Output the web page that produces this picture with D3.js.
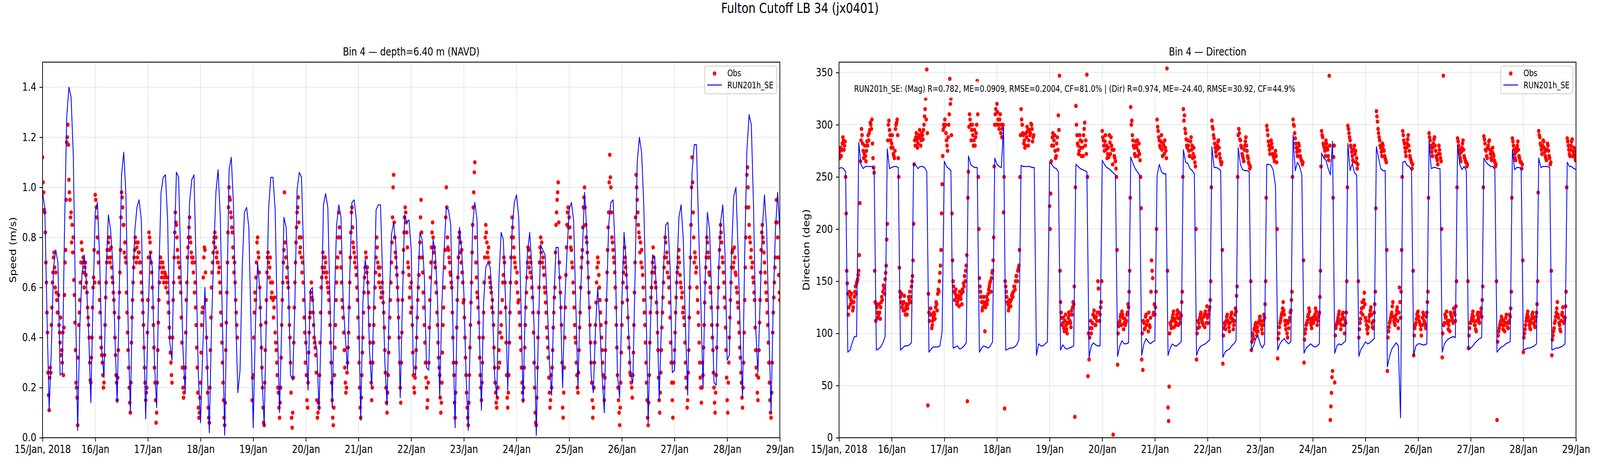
<!DOCTYPE html>
<html>
<head>
<meta charset="utf-8">
<script src="https://cdn.jsdelivr.net/npm/d3@7"></script>
<style>
  html, body { margin: 0; padding: 0; background: #fff; width: 100%; height: 100%; overflow: hidden; }
  svg { display: block; width: 100vw; height: 100vh; font-family: "DejaVu Sans", sans-serif; }
</style>
</head>
<body>
<svg id="chart" viewBox="0 0 5000 1200" preserveAspectRatio="none"></svg>
<script>
// ---- data ----
// model: hourly from 15/Jan 00:00 to 29/Jan 00:00 (337 values)
const modelSpeed = [
  .98,.92,.50,.11,.35,.68,.75,.70,.25,.26,.83,1.28,1.40,1.36,1.13,.55,.03,.45,.66,.73,.62,.42,.14,.55,
  .90,.94,.72,.35,.24,.67,.89,.83,.70,.40,.14,.60,1.05,1.14,.97,.45,.10,.55,.82,.92,.95,.87,.45,.075,
  .45,.74,.68,.30,.12,.65,.98,1.04,1.05,.87,.38,.31,.75,1.06,1.04,.69,.35,.18,.62,.94,1.03,1.05,.68,.25,
  .06,.35,.60,.30,.02,.45,.73,.98,1.07,.88,.45,.01,.54,1.07,1.12,.93,.49,.18,.27,.68,.90,.92,.84,.45,
  .04,.45,.70,.59,.25,.05,.49,.91,1.04,1.04,.91,.45,.10,.45,.88,.84,.64,.25,.23,.54,.99,1.06,1.04,.73,
  .40,.19,.59,.60,.40,.35,.11,.45,.93,.975,.92,.54,.12,.54,.85,.93,.88,.54,.40,.27,.64,.94,.95,.87,
  .54,.07,.54,.71,.66,.35,.205,.54,.91,.93,.93,.64,.30,.13,.54,.81,.86,.77,.54,.16,.54,.89,.86,.87,
  .75,.26,.25,.60,.82,.79,.64,.28,.27,.60,.79,.74,.55,.16,.54,.75,.92,.91,.85,.44,.04,.54,.84,.75,
  .58,.25,.03,.44,.85,.94,.87,.44,.11,.54,.68,.70,.68,.54,.25,.16,.64,.82,.79,.54,.19,.54,.83,.94,
  .97,.88,.54,.14,.54,.74,.82,.68,.44,.01,.44,.77,.75,.73,.54,.30,.17,.54,.76,.76,.54,.20,.54,.74,
  .91,.94,.87,.54,.20,.54,.74,.98,.83,.54,.25,.18,.44,.60,.44,.25,.10,.54,.85,.94,.95,.74,.25,.16,
  .54,.82,.70,.44,.25,.22,.64,1.10,1.20,1.14,.93,.54,.06,.44,.73,.72,.54,.15,.44,.68,.85,.86,.68,.26,
  .27,.64,.88,.93,.79,.44,.17,.64,1.06,1.17,1.17,.83,.54,.20,.64,.90,.83,.54,.22,.21,.64,.86,.93,.74,
  .31,.33,.74,.965,1.00,.74,.40,.16,.74,1.15,1.29,1.25,.93,.44,.26,.54,.83,.97,.83,.44,.10,.54,.83,.98,
  .83
];

const modelDir = [
  258,259,258,255,82,84,91,97,97, 283,262,258,260,260,260,260,257, 84,85,87,91,97,
  277,258,259,260,260,259, 84,86,88,88,89,91, 263,261,258,260,260,259,255,
  82,85,87,87,87,88,102, 265,260,258,256, 86,87,88,85,86,88,91,
  270,262,260,259,259, 82,86,88,87,86,88,92, 268,262,260,259,298,
  84,85,86,86,87,89,94, 261,260,260,260,260,259,259, 79,90,88,88,90,92,
  264,262,259,258,255, 84,89,86,85,86,87,88, 262,260,258,257,256,255,
  77,88,91,89,88,88, 266,262,259,258,256,254,252, 78,88,93,90,90,91,
  269,263,258,255,252, 79,90,95,92,90,92,93, 251,262,255,253,253,
  79,86,90,88,88,90,92, 276,264,263,258,256,253, 79,85,88,89,90,92,94,
  279,259,259,258,256, 77,82,84,85,88,90,93, 278,262,257,256,256,255,
  84,88,95,98,90,86,90, 262,262,261,256,241, 84,90,93,95,92,90,92,
  290,256,264,260,252, 81,86,88,90,88,87,88,90, 273,268,266,258,252,284,
  81,88,90,89,91,93, 282,256,263,254,252, 78,85,88,92,90,91,93,95,
  279,268,258,256,256, 68,78,85,88,91,88,19, 264,265,261,260,256,
  79,88,90,90,89,89,90, 284,258,259,259,258,258, 82,90,93,95,96,97,96,
  280,262,257,260,256, 84,86,88,91,93,95,96, 268,264,262,260,260,257,
  82,85,87,88,90,91,92, 276,257,259,259,258, 84,85,86,86,87,88,90,
  268,259,260,260,260,259, 84,85,86,86,87,88,90, 264,260,260,258,257
];

// observations on the hour and half hour from 15/Jan 00:00 (673 values, null = no data)
const obsSpeed = [
  // 15/Jan
  1.12,.98,.90,.70,.50,.26,.11,.28,.45,.62,.72,.68,.66,.55,.50,.45,.38,.33,.30,.25,.57,.75,1.18,1.25,
  1.03,.95,.90,.85,.80,.57,.35,.20,.05,.45,.55,.70,.75,.72,.60,.70,.62,.52,.45,.30,.22,.40,.60,.75,
  // 16/Jan
  .97,.92,.80,.70,.55,.40,.33,.25,.22,.45,.62,.75,.78,.75,.72,.68,.62,.55,.40,.25,.15,.35,.58,.75,
  .98,.92,.85,.78,.70,.50,.35,.20,.10,.38,.55,.68,.75,.78,.76,.78,.74,.70,.62,.55,.45,.28,.15,.20,
  // 17/Jan
  .55,.82,.78,.70,.60,.45,.28,.15,.10,.35,.55,.68,.70,.66,.68,.64,.65,.62,.58,.50,.40,.30,.22,.55,
  .72,.90,.85,.75,.70,.68,.58,.38,.20,.18,.28,.55,.72,.80,.88,.78,.72,.72,.70,.62,.45,.28,.12,.10,
  // 18/Jan
  .22,.45,.52,.72,.75,.55,.28,.12,.06,.35,.60,.70,.78,.82,.80,.74,.70,.68,.58,.45,.30,.15,.05,.35,
  .58,.82,1.00,.95,.88,.82,.72,.70,.55,.45,null,null,null,null,null,null,null,null,null,null,null,null,null,.15,
  // 19/Jan
  .25,.50,.55,.70,.80,.72,.60,.45,.28,.12,.05,.35,.55,.72,.70,.68,.62,.58,.55,.52,.42,.35,.25,.18,
  .08,.20,.45,.62,.75,.78,.72,.68,.60,.45,.30,.08,.10,.38,.62,.78,.90,.96,.80,.76,.72,.70,.55,.42,
  // 20/Jan
  .38,.15,.22,.42,.50,.62,.55,.45,.38,.33,.15,.10,.12,.38,.60,.68,.72,.68,.70,.66,.60,.55,.45,.30,
  .15,.05,.25,.45,.62,.72,.90,.80,.68,.55,.48,.35,.22,.20,.30,.42,.62,.82,.92,.78,.74,.72,.65,.55,
  // 21/Jan
  .40,.20,.08,.25,.40,.58,.68,.72,.68,.58,.45,.30,.15,.30,.45,.60,.72,.76,.68,.65,.60,.58,.58,.50,
  .35,.20,.10,.25,.40,.55,.70,.88,1.05,.80,.72,.65,.55,.40,.20,.30,.55,.75,.88,.90,.82,.70,.65,.60,
  // 22/Jan
  .62,.45,.25,.18,.28,.40,.55,.65,.78,.95,.72,.58,.45,.30,.20,.15,.30,.55,.70,.82,.80,.76,.68,.58,
  .45,.32,.25,.10,.22,.45,.60,.75,1.00,.80,.75,.70,.65,.60,.40,.25,.08,.30,.55,.72,.82,.78,.75,.62,
  // 23/Jan
  .55,.40,.25,.12,.05,.25,.45,.62,.85,.98,1.10,.70,.58,.52,.40,.25,.15,.30,.50,.72,.85,.78,.72,.70,
  .62,.58,.55,.45,.28,.18,.12,.20,.35,.42,.45,.55,.65,.70,.52,.25,.12,.25,.50,.72,.88,.80,.72,.68,
  // 24/Jan
  .62,.58,.55,.45,.35,.22,.15,.28,.45,.58,.70,.75,.72,.70,.60,.50,.30,.10,.05,.28,.50,.70,.80,.78,
  .72,.65,.58,.50,.40,.32,.18,.15,.20,.35,.50,.60,.85,.95,1.02,.70,.58,.45,.12,.18,.40,.65,.85,.92,
  // 25/Jan
  .88,.80,.75,.68,.58,.45,.38,.25,.18,.35,.50,.68,.75,.92,1.00,.85,.78,.70,.58,.45,.30,.15,.12,.30,
  .45,.62,.72,.65,.55,.45,.35,.25,.15,.35,.55,.75,.90,1.13,1.00,.80,.75,.70,.60,.45,.25,.15,.05,.22,
  // 26/Jan
  .45,.62,.70,.72,.65,.55,.40,.30,.25,.20,.25,.45,.70,1.05,.95,.85,.80,.78,.75,.65,.55,.45,.30,.15,
  .05,.25,.50,.60,.70,.72,.68,.60,.50,.35,.15,.18,.35,.50,.62,.72,.78,.74,.70,.60,.48,.30,.15,.22,
  // 27/Jan
  .35,.50,.62,.68,.75,.65,.60,.58,.52,.45,.30,.20,.15,.35,.60,.85,1.12,.90,.70,.72,.68,.55,.45,.30,
  .20,.20,.25,.45,.62,.72,.78,.72,.65,.58,.45,.35,.20,.10,.25,.45,.60,.75,.85,.78,.70,.62,.52,.35,
  // 28/Jan
  .15,.22,.40,.55,.68,.75,.70,.72,.65,.58,.52,.42,.32,.22,.12,.30,.55,.80,1.05,1.00,.85,.78,.75,.70,
  .62,.55,.35,.25,.15,.35,.55,.75,.85,.78,.70,.62,.55,.45,.30,.15,.08,.30,.50,.62,.72,.95,.80,.65,
  .55
];

// observations at quarter past / quarter to (672 values)
const obsSpeedMid = [
  1.02,.91,.82,.62,.42,.17,.24,.26,.52,.66,.74,.60,.58,.50,.57,.42,.48,.35,.42,.44,.70,.95,1.20,1.17,
  .98,.88,.78,.74,.63,.46,.22,.16,.32,.50,.62,.78,.70,.66,.68,.65,.58,.48,.40,.23,.32,.52,.64,.62,
  .95,.88,.74,.62,.50,.36,.30,.20,.33,.56,.70,.72,.80,.70,.76,.64,.58,.50,.33,.22,.24,.48,.66,.88,
  .96,.85,.74,.72,.58,.42,.28,.14,.22,.48,.62,.72,.80,.70,.72,.74,.70,.66,.58,.50,.36,.22,.18,.42,
  .72,.80,.74,.66,.52,.36,.22,.06,.22,.46,.62,.72,.64,.70,.62,.66,.60,.64,.54,.44,.34,.25,.40,.62,
  .82,.86,.80,.72,.64,.62,.48,.28,.16,.24,.42,.62,.76,.84,.80,.74,.70,.66,.58,.52,.36,.18,.08,.16,
  .34,.50,.64,.76,.66,.40,.18,.08,.20,.48,.66,.74,.80,.76,.72,.70,.66,.62,.50,.38,.22,.08,.14,.46,
  .70,.92,.96,.90,.84,.76,.66,.62,.50,.40,null,null,null,null,null,null,null,null,null,null,null,null,null,.24,
  .40,.58,.64,.78,.74,.66,.52,.36,.20,.06,.22,.46,.66,.74,.64,.72,.56,.62,.48,.56,.38,.30,.20,.12,
  .14,.32,.55,.70,.98,.72,.64,.62,.52,.40,.18,.04,.24,.52,.70,.84,.92,.86,.74,.80,.66,.62,.48,.30,
  .25,.12,.34,.48,.58,.56,.50,.40,.36,.26,.08,.14,.25,.50,.64,.74,.66,.72,.64,.62,.58,.50,.38,.22,
  .08,.12,.36,.55,.68,.80,.84,.74,.62,.52,.42,.28,.18,.26,.36,.52,.72,.90,.84,.76,.70,.68,.60,.48,
  .30,.12,.16,.34,.50,.64,.74,.66,.62,.52,.38,.22,.20,.38,.52,.66,.80,.70,.62,.68,.56,.62,.54,.44,
  .26,.14,.18,.34,.48,.62,.78,1.00,.86,.74,.68,.60,.48,.30,.14,.42,.66,.82,.92,.86,.76,.68,.56,.50,
  .52,.34,.20,.24,.35,.48,.60,.72,.88,.82,.66,.52,.38,.24,.12,.22,.44,.64,.76,.86,.74,.70,.62,.50,
  .38,.28,.16,.14,.34,.52,.68,.88,.92,.76,.72,.66,.62,.50,.30,.14,.18,.44,.64,.80,.74,.70,.66,.54,
  .48,.32,.18,.08,.14,.36,.54,.74,.92,1.06,.80,.64,.56,.46,.32,.20,.22,.40,.62,.80,.82,.74,.76,.64,
  .60,.52,.50,.36,.22,.14,.16,.28,.30,.50,.40,.62,.72,.62,.38,.16,.18,.38,.62,.80,.84,.76,.70,.62,
  .66,.54,.50,.40,.28,.18,.20,.36,.52,.64,.76,.68,.66,.64,.56,.42,.20,.06,.16,.40,.60,.76,.74,.70,
  .68,.60,.54,.44,.36,.24,.12,.25,.28,.44,.56,.74,.90,.98,.86,.64,.52,.30,.08,.28,.52,.76,.90,.84,
  .84,.76,.70,.62,.52,.40,.30,.20,.26,.44,.60,.72,.84,.96,.92,.80,.74,.64,.52,.38,.22,.08,.20,.38,
  .54,.68,.70,.60,.50,.40,.30,.20,.24,.46,.66,.84,1.02,1.04,.90,.78,.72,.66,.52,.36,.20,.10,.12,.34,
  .54,.66,.76,.68,.60,.48,.36,.26,.22,.16,.34,.58,.88,1.00,.90,.82,.74,.70,.68,.60,.50,.38,.22,.08,
  .14,.38,.56,.66,.76,.66,.62,.54,.42,.24,.10,.26,.44,.56,.68,.80,.72,.66,.64,.54,.38,.22,.08,.30,
  .42,.56,.66,.72,.70,.62,.56,.50,.48,.38,.24,.12,.26,.48,.72,1.00,1.02,.80,.74,.66,.60,.50,.38,.24,
  .14,.30,.36,.54,.68,.80,.74,.66,.60,.52,.40,.26,.14,.18,.36,.52,.68,.80,.82,.72,.66,.56,.44,.24,
  .10,.30,.48,.62,.74,.68,.76,.66,.60,.54,.46,.36,.26,.16,.20,.42,.68,.92,1.08,.92,.80,.72,.68,.64,
  .58,.44,.28,.18,.24,.46,.66,.82,.80,.74,.66,.58,.50,.38,.22,.10,.18,.42,.56,.68,.86,.86,.72,.58
];

const obsDir = [
  // 15/Jan
  272,275,270,282,285,280,250,160,138,125,135,132,130,125,135,145,148,152,160,225,285,290,275,272,
  270,275,280,285,295,300,305,268,254,130,128,120,118,120,125,135,140,143,152,165,205,300,295,285,
  // 16/Jan
  282,278,270,275,300,305,268,163,135,138,128,130,122,125,118,128,132,135,145,155,205,285,288,285,
  282,290,287,285,290,295,308,325,353,31,120,118,118,108,115,118,125,128,138,140,158,180,243,295,
  // 17/Jan
  298,300,285,275,300,344,325,215,150,140,138,135,130,133,140,133,128,140,145,150,165,35,255,310,
  300,295,290,285,280,292,342,250,153,140,130,125,135,102,130,128,138,145,150,153,160,192,300,315,
  // 18/Jan
  320,305,296,310,300,296,216,28,145,135,128,125,130,132,138,140,145,150,155,160,165,250,315,300,
  290,285,280,288,294,285,290,301,296,288,null,null,null,null,null,null,null,null,null,null,null,null,null,null,
  // 19/Jan
  222,234,280,292,285,275,270,288,309,347,130,115,110,105,112,108,100,115,118,110,122,125,128,20,
  318,290,280,275,285,270,278,290,302,285,348,59,75,105,100,110,118,115,108,112,150,120,118,130,
  // 20/Jan
  294,285,275,290,280,272,269,283,288,276,3,270,265,250,70,107,112,118,121,115,110,108,112,120,
  125,160,317,304,285,278,270,280,285,275,272,250,75,65,110,105,118,112,102,108,115,170,153,120,
  // 21/Jan
  118,140,305,294,285,278,290,270,280,285,275,354,29,49,110,105,115,121,112,108,118,115,120,110,
  117,140,315,309,292,280,285,275,270,288,280,272,269,260,75,105,110,115,120,112,108,118,121,110,
  // 22/Jan
  115,118,125,150,304,296,287,278,270,280,285,272,265,264,71,105,108,112,118,110,102,115,120,112,
  108,118,121,145,290,292,285,278,270,265,280,288,275,268,262,260,84,100,95,105,110,98,102,112,
  // 23/Jan
  116,108,100,112,115,150,299,290,280,272,285,278,270,265,275,264,76,100,110,115,120,130,118,108,
  112,96,105,115,122,140,305,299,287,278,270,282,275,268,265,264,72,100,108,112,118,121,110,105,
  // 24/Jan
  115,112,118,121,108,116,120,160,294,288,280,275,285,278,270,347,17,43,64,269,53,105,110,115,
  121,112,108,118,115,100,110,150,299,292,285,278,270,265,280,275,268,262,96,110,120,130,125,139,
  // 25/Jan
  115,108,100,112,118,125,110,105,120,140,313,303,292,285,278,270,280,275,268,264,64,102,110,115,
  120,130,112,108,118,125,105,144,115,180,294,285,278,270,282,290,275,268,264,262,79,105,110,118,
  // 26/Jan
  121,112,108,98,115,118,110,105,120,140,292,285,278,270,282,288,275,268,262,280,272,265,77,347,
  110,115,121,112,108,102,118,115,110,120,112,150,287,280,272,265,278,285,270,266,264,262,86,105,
  // 27/Jan
  110,115,121,112,108,102,118,115,110,120,116,145,289,282,275,268,280,285,272,266,278,270,264,262,
  17,98,105,110,116,108,112,102,115,110,105,112,116,140,287,280,272,266,278,284,270,265,264,262,
  // 28/Jan
  82,100,108,115,121,112,105,110,118,115,108,112,120,150,294,288,280,272,285,278,270,266,282,275,
  268,264,79,98,105,112,120,130,115,108,102,118,125,110,115,140,287,280,272,276,284,270,278,269,
  275
];

const obsDirMid = [
  268,278,276,288,276,284,215,148,118,140,128,138,122,130,140,138,150,156,175,265,296,282,268,280,
  265,284,290,292,302,296,282,259,160,112,125,115,128,114,130,132,146,138,158,190,285,304,290,278,
  290,272,268,296,302,290,250,140,130,125,122,136,118,128,124,135,140,130,150,170,262,280,292,278,
  288,295,280,292,286,300,315,305,292,138,112,124,105,112,120,114,130,122,142,150,165,215,270,300,
  305,292,280,288,310,320,290,170,145,132,142,128,136,126,135,138,142,148,155,160,175,230,298,305,
  285,300,280,295,288,300,310,200,145,135,122,130,128,125,135,132,142,148,140,158,170,260,310,300,
  312,300,305,292,288,300,250,150,140,130,122,132,126,136,135,145,142,155,150,162,180,290,305,292,
  282,278,292,298,280,295,292,300,284,290,null,null,null,null,null,null,null,null,null,null,null,null,null,null,
  200,265,288,280,290,268,282,276,295,160,120,108,115,102,118,104,110,120,112,106,118,130,145,240,
  300,282,272,290,278,284,270,296,280,272,250,100,96,112,105,118,122,108,116,120,143,112,125,150,
  288,280,284,276,268,278,290,272,280,262,276,268,258,180,100,110,116,108,118,104,114,110,118,128,
  140,230,300,290,280,272,284,278,270,282,266,220,100,112,104,116,108,112,120,106,140,160,118,128,
  125,200,298,288,280,284,276,282,272,278,268,160,16,100,108,112,118,106,114,110,122,108,114,118,
  130,250,304,296,286,278,280,270,284,276,268,278,264,200,100,112,106,118,114,110,116,106,118,126,
  110,122,132,240,298,290,282,274,276,284,278,268,262,180,98,110,104,116,112,106,110,118,114,104,
  112,124,136,250,296,286,280,272,268,276,284,280,270,264,258,150,92,98,104,108,102,106,110,116,
  112,104,108,118,128,230,295,284,276,280,282,272,268,272,270,200,95,106,112,118,124,122,112,104,
  100,110,112,120,132,250,300,292,282,274,276,280,270,266,262,170,94,104,110,116,124,114,108,112,
  110,116,124,114,112,118,135,260,290,282,278,270,282,276,266,280,30,58,230,280,98,108,112,118,
  110,104,114,120,108,112,120,240,296,288,280,274,266,276,272,264,258,150,104,114,124,118,132,128,
  112,104,106,116,122,118,106,112,128,220,308,296,288,280,274,282,276,270,266,180,96,106,112,118,
  126,116,110,114,122,112,120,130,140,250,290,282,274,278,286,280,270,266,258,160,98,108,114,120,
  116,110,104,108,120,112,108,116,130,230,288,280,274,278,286,280,270,266,272,276,268,200,100,108,
  118,116,110,104,112,120,116,112,124,118,126,240,284,276,268,274,282,276,268,264,260,150,98,110,
  112,118,116,108,104,112,120,112,116,124,132,240,286,276,270,278,284,276,268,274,272,266,260,150,
  92,102,108,112,114,104,108,110,118,106,110,118,124,230,284,276,268,274,280,276,268,264,258,170,
  96,104,112,118,116,108,104,114,120,110,106,116,128,235,290,282,276,280,284,274,268,276,280,270,
  262,160,94,102,110,116,124,118,110,104,112,120,116,112,126,240,284,276,270,280,286,274,272,266
];

const speedTicks = [0, 0.2, 0.4, 0.6, 0.8, 1.0, 1.2, 1.4];
const dirTicks = [0, 50, 100, 150, 200, 250, 300, 350];
const seriesNames = ["Obs", "RUN201h_SE"];
const statsNote = "RUN201h_SE: (Mag) R=0.782, ME=0.0909, RMSE=0.2004, CF=81.0% | (Dir) R=0.974, ME=-24.40, RMSE=30.92, CF=44.9%";

// ---- layout ----
const t0 = Date.UTC(2018, 0, 15), t1 = Date.UTC(2018, 0, 29);
const HOUR = 3600 * 1000, HALF = HOUR / 2;
const plotTop = 159, plotBottom = 1120;
const FONT = "DejaVu Sans, sans-serif";
const dayTicks = d3.utcDay.range(t0, t1 + 1);
const fmtFirst = d3.utcFormat("%d/%b, %Y"), fmtDay = d3.utcFormat("%d/%b");

const panels = [
  { key: "spd", left: 133, right: 2437, title: "Bin 4 \u2014 depth=6.40 m (NAVD)", ylabel: "Speed (m/s)",
    domain: [0, 1.5], ticks: speedTicks, fmt: d3.format(".1f"),
    obs: obsSpeed, obsMid: obsSpeedMid, model: modelSpeed, labelX: 50 },
  { key: "dir", left: 2622, right: 4925, title: "Bin 4 \u2014 Direction", ylabel: "Direction (deg)",
    domain: [0, 360], ticks: dirTicks, fmt: d3.format("d"),
    obs: obsDir, obsMid: obsDirMid, model: modelDir, labelX: 2529, note: true }
];

const svg = d3.select("#chart");
svg.append("rect").attr("width", 5000).attr("height", 1200).attr("fill", "#fff");

svg.append("text")
  .attr("x", 2500).attr("y", 33)
  .attr("text-anchor", "middle")
  .style("font-family", FONT).style("font-size", "35px")
  .text("Fulton Cutoff LB 34 (jx0401)");

panels.forEach(p => {
  const x = d3.scaleUtc().domain([t0, t1]).range([p.left, p.right]);
  const y = d3.scaleLinear().domain(p.domain).range([plotBottom, plotTop]);
  const g = svg.append("g");

  svg.append("clipPath").attr("id", "clip-" + p.key)
    .append("rect")
    .attr("x", p.left).attr("y", plotTop)
    .attr("width", p.right - p.left).attr("height", plotBottom - plotTop);

  // grid
  const grid = g.append("g").attr("stroke", "#b0b0b0").attr("stroke-opacity", 0.3).attr("stroke-width", 2.2);
  grid.selectAll("line.gx").data(dayTicks).join("line")
    .attr("x1", d => x(d)).attr("x2", d => x(d))
    .attr("y1", plotTop).attr("y2", plotBottom);
  grid.selectAll("line.gy").data(p.ticks).join("line")
    .attr("x1", p.left).attr("x2", p.right)
    .attr("y1", d => y(d)).attr("y2", d => y(d));

  // observations
  const obs = p.obs.map((v, i) => ({ t: t0 + i * HALF, v }))
    .concat(p.obsMid.map((v, i) => ({ t: t0 + HALF / 2 + i * HALF, v })))
    .filter(d => d.v != null);
  g.append("g").attr("clip-path", `url(#clip-${p.key})`)
    .selectAll("circle").data(obs).join("circle")
    .attr("cx", d => x(d.t)).attr("cy", d => y(d.v))
    .attr("r", 5.5).attr("fill", "#ff0000");

  // model
  const line = d3.line().x((d, i) => x(t0 + i * HOUR)).y(d => y(d));
  g.append("path").attr("clip-path", `url(#clip-${p.key})`)
    .attr("d", line(p.model))
    .attr("fill", "none").attr("stroke", "#0000ff")
    .attr("stroke-width", 2.6).attr("stroke-linejoin", "round");

  // axes
  const xAxis = d3.axisBottom(x).tickValues(dayTicks)
    .tickFormat((d, i) => i === 0 ? fmtFirst(d) : fmtDay(d))
    .tickSize(9.7).tickPadding(9.7).tickSizeOuter(0);
  const yAxis = d3.axisLeft(y).tickValues(p.ticks).tickFormat(p.fmt)
    .tickSize(9.7).tickPadding(9.7).tickSizeOuter(0);

  [g.append("g").attr("transform", `translate(0,${plotBottom})`).call(xAxis),
   g.append("g").attr("transform", `translate(${p.left},0)`).call(yAxis)]
    .forEach(a => {
      a.select(".domain").remove();
      a.selectAll("line").attr("stroke", "#000").attr("stroke-width", 2.2);
      a.selectAll("text").attr("fill", "#000")
        .style("font-family", FONT).style("font-size", "27.8px");
    });

  // spines
  g.append("rect")
    .attr("x", p.left).attr("y", plotTop)
    .attr("width", p.right - p.left).attr("height", plotBottom - plotTop)
    .attr("fill", "none").attr("stroke", "#000").attr("stroke-width", 2.2);

  // titles
  g.append("text")
    .attr("x", (p.left + p.right) / 2).attr("y", 142)
    .attr("text-anchor", "middle")
    .style("font-family", FONT).style("font-size", "27.8px")
    .text(p.title);
  g.append("text")
    .attr("transform", `translate(${p.labelX},${(plotTop + plotBottom) / 2}) rotate(-90)`)
    .attr("text-anchor", "middle")
    .style("font-family", FONT).style("font-size", "27.8px")
    .text(p.ylabel);

  // stats note
  if (p.note) {
    const nb = g.append("g");
    const box = nb.append("rect").attr("fill", "#fff").attr("fill-opacity", 0.7);
    const txt = nb.append("text")
      .attr("x", p.left + 47).attr("y", 235)
      .style("font-family", FONT).style("font-size", "22.2px")
      .text(statsNote);
    const w = txt.node().getComputedTextLength();
    box.attr("x", p.left + 41).attr("y", 208).attr("width", w + 12).attr("height", 43);
  }

  // legend
  const lx = p.right - 235, ly = 169;
  const lg = g.append("g");
  lg.append("rect")
    .attr("x", lx).attr("y", ly).attr("width", 225).attr("height", 71)
    .attr("rx", 5)
    .attr("fill", "#fff").attr("fill-opacity", 0.8)
    .attr("stroke", "#cccccc").attr("stroke-width", 2.2);
  lg.append("circle").attr("cx", lx + 31).attr("cy", 188).attr("r", 5.5).attr("fill", "#ff0000");
  lg.append("line").attr("x1", lx + 8).attr("x2", lx + 54).attr("y1", 217.5).attr("y2", 217.5)
    .attr("stroke", "#0000ff").attr("stroke-width", 2.6);
  lg.selectAll("text").data(seriesNames).join("text")
    .attr("x", lx + 71).attr("y", (d, i) => i === 0 ? 195 : 226)
    .style("font-family", FONT).style("font-size", "22.2px")
    .text(d => d);
});
</script>
</body>
</html>
